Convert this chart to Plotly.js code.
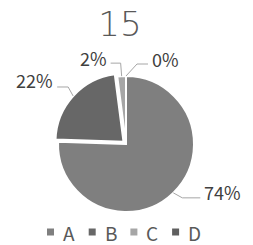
<!DOCTYPE html>
<html>
<head>
<meta charset="utf-8">
<script src="https://cdn.plot.ly/plotly-3.0.1.min.js"></script>
<style>html,body{margin:0;padding:0;background:#fff;}#chart{width:253px;height:245px;}</style>
</head>
<body>
<div id="chart"></div>
<script>
// ---- data ----
var titleText = "15";
var categories = ["A", "B", "C", "D"];
var shares = [74, 22, 2, 0];          // percent shares as labelled
var sliceColors = ["#7f7f7f", "#676767", "#a6a6a6", "#5f5f5f"];
var pulls = [0, 0.05, 0, 0];

// ---- layout constants ----
var W = 253, H = 245;
var cx = 126, cy = 144, R = 68;
var maxPull = Math.max.apply(null, pulls);
var half = R * (1 + maxPull);
// leader-line geometry (pixels, relative to slice edge point): elbow, end, side
var leaderCfg = [
  {elbow: [9, 5], end: [27, 5], side: "right", ty: -6},
  {elbow: [-5, -9], end: [-16, -9], side: "left", ty: -7},
  {elbow: [-1, -13], end: [-11, -13], side: "left", ty: -5},
  {elbow: [11, -12], end: [22, -12], side: "right", ty: -5}
];
// custom legend geometry (pixels)
var legendX0 = 47, legendStep = 41.7, legendY = 232, legendBox = 7, legendTextGap = 14;
var fontFam = "'Noto Sans CJK JP', 'Noto Sans', sans-serif";

function px(x) { return x / W; }
function py(y) { return 1 - y / H; }

var total = shares.reduce(function (a, b) { return a + b; }, 0);
var shapes = [], annotations = [];
var acc = 0;
for (var i = 0; i < shares.length; i++) {
  var a0 = acc / total * 2 * Math.PI;
  acc += shares[i];
  var a1 = acc / total * 2 * Math.PI;
  var mid = (a0 + a1) / 2;
  var dx = Math.sin(mid), dy = -Math.cos(mid);
  var ex = cx + dx * R * (1 + pulls[i]);
  var ey = cy + dy * R * (1 + pulls[i]);
  var c = leaderCfg[i];
  var p1 = [ex + c.elbow[0], ey + c.elbow[1]];
  var p2 = [ex + c.end[0], ey + c.end[1]];
  shapes.push({
    type: "path", xref: "paper", yref: "paper",
    path: "M" + px(ex) + "," + py(ey) + " L" + px(p1[0]) + "," + py(p1[1]) + " L" + px(p2[0]) + "," + py(p2[1]),
    line: {color: "#a6a6a6", width: 1}
  });
  annotations.push({
    xref: "paper", yref: "paper",
    x: px(p2[0] + (c.side === "right" ? 2 : -2)),
    y: py(p2[1] + c.ty),
    xanchor: c.side === "right" ? "left" : "right",
    yanchor: "middle",
    text: shares[i] + "%",
    showarrow: false,
    font: {family: fontFam, size: 18, color: "#404040"}
  });
}

// legend built from categories and colours
for (var j = 0; j < categories.length; j++) {
  var lx = legendX0 + j * legendStep;
  shapes.push({
    type: "rect", xref: "paper", yref: "paper",
    x0: px(lx), x1: px(lx + legendBox),
    y0: py(legendY + legendBox / 2), y1: py(legendY - legendBox / 2),
    fillcolor: sliceColors[j], line: {width: 0}
  });
  annotations.push({
    xref: "paper", yref: "paper",
    x: px(lx + legendTextGap), y: py(legendY),
    xanchor: "left", yanchor: "middle",
    text: categories[j], showarrow: false,
    font: {family: fontFam, size: 19, color: "#595959"}
  });
}

var data = [{
  type: "pie",
  labels: categories,
  values: shares,
  sort: false,
  direction: "clockwise",
  rotation: 0,
  pull: pulls,
  textinfo: "none",
  hoverinfo: "none",
  showlegend: false,
  marker: {colors: sliceColors, line: {color: "#ffffff", width: 2}},
  domain: {x: [px(cx - half), px(cx + half)], y: [py(cy + half), py(cy - half)]}
}];

var layout = {
  width: W, height: H,
  margin: {l: 0, r: 0, t: 0, b: 0},
  paper_bgcolor: "#ffffff",
  title: {text: titleText, x: px(120), xanchor: "center", y: py(24), yanchor: "middle",
          font: {family: "'DejaVu Sans', sans-serif", size: 34, color: "#595959", weight: 200}},
  showlegend: false,
  shapes: shapes,
  annotations: annotations
};

Plotly.newPlot("chart", data, layout, {staticPlot: true, displayModeBar: false});
</script>
</body>
</html>
